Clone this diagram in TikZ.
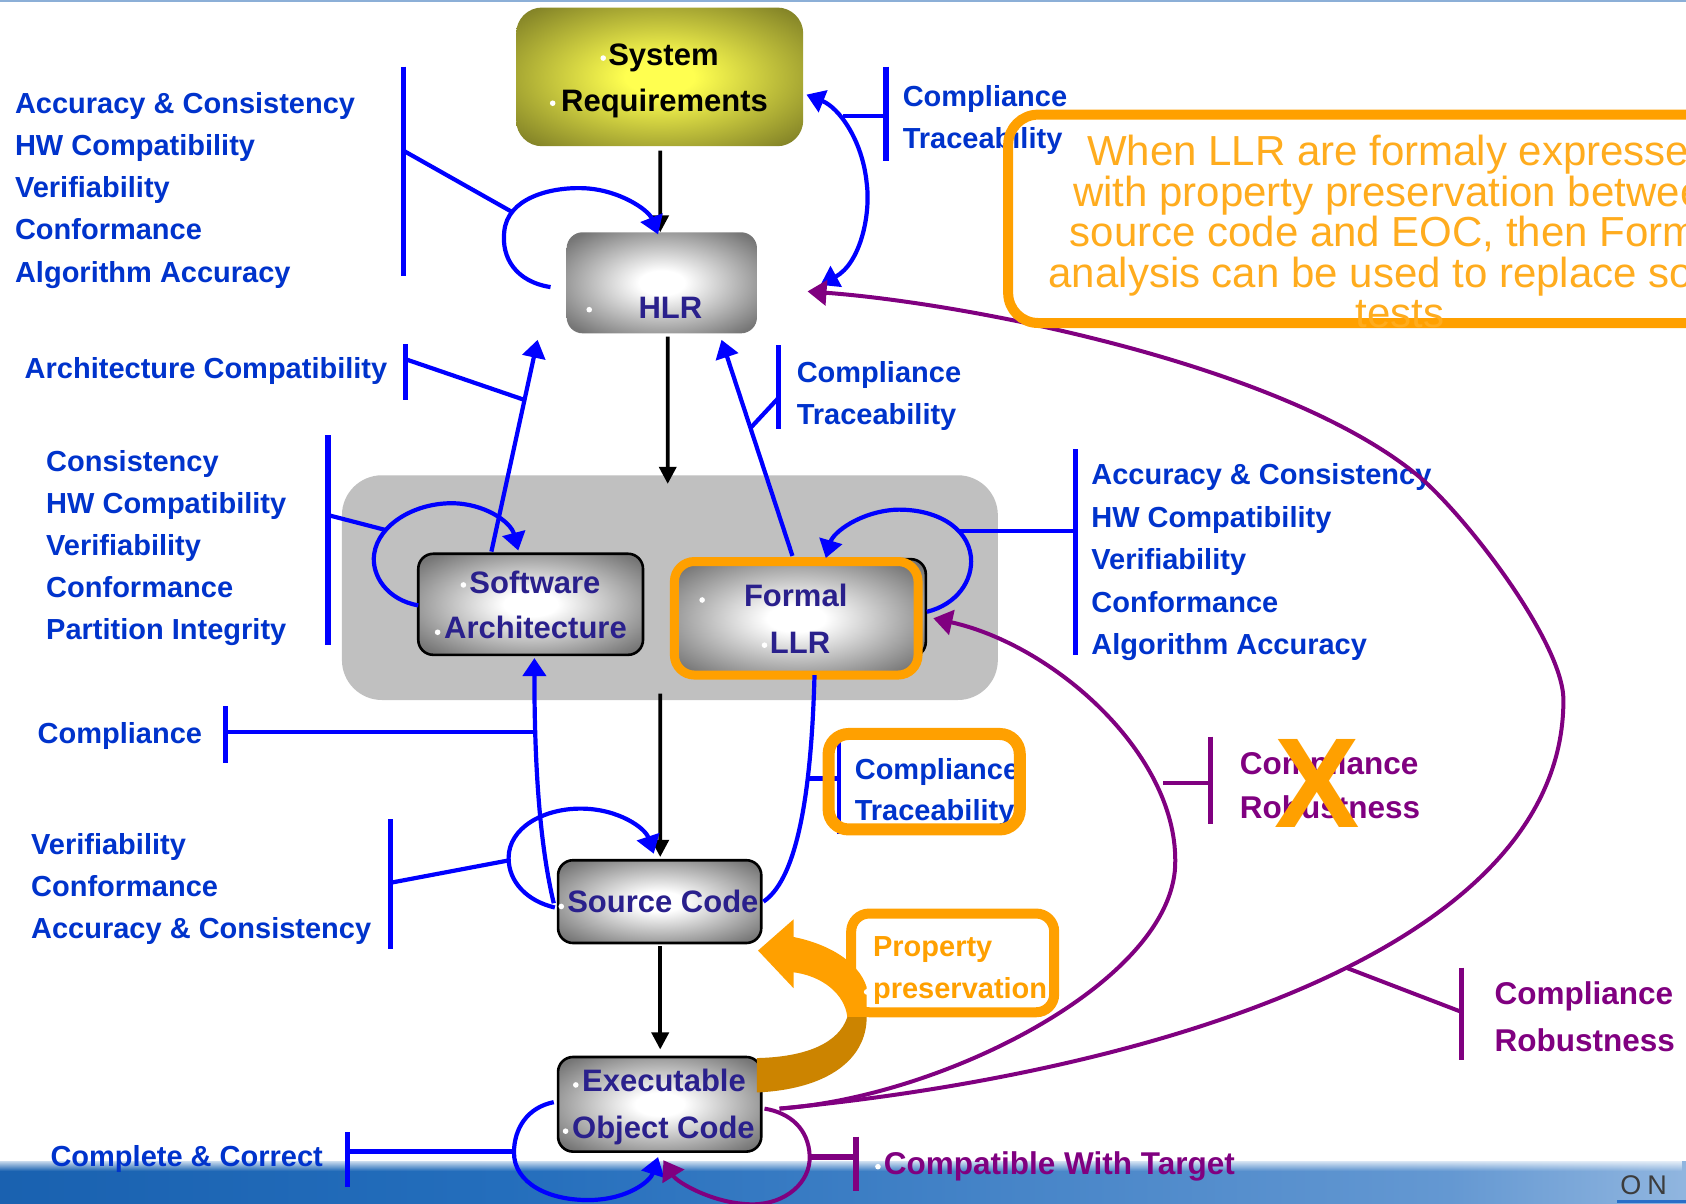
\documentclass[tikz,border=0pt]{standalone}
\usepackage{fontspec}
\setmainfont{Liberation Sans}
\usetikzlibrary{arrows.meta,calc,fit,fadings}

\definecolor{lblblue}{RGB}{0,51,204}
\definecolor{linkblue}{RGB}{0,0,255}
\definecolor{plum}{RGB}{128,0,128}
\definecolor{amber}{RGB}{255,160,0}
\definecolor{amberlite}{RGB}{255,172,30}
\definecolor{amberdark}{RGB}{204,132,0}
\definecolor{navy}{RGB}{42,32,140}
\definecolor{panelgrey}{RGB}{192,192,192}
\definecolor{boxedge}{RGB}{118,118,118}
\definecolor{reqcore}{RGB}{255,255,80}
\definecolor{reqedge}{RGB}{122,122,36}
\definecolor{bandA}{RGB}{8,76,156}
\definecolor{bandB}{RGB}{36,110,188}
\definecolor{bandC}{RGB}{100,152,210}
\definecolor{bandD}{RGB}{208,224,242}
\definecolor{topline}{RGB}{140,175,215}
\definecolor{brandgrey}{RGB}{60,60,60}
\definecolor{brandblue}{RGB}{40,110,200}

\pgfdeclareradialshading{greyglow}{\pgfpointorigin}{color(0bp)=(white); color(6bp)=(white); color(32bp)=(boxedge); color(50bp)=(boxedge)}
\pgfdeclareradialshading{reqglow}{\pgfpointorigin}{color(0bp)=(reqcore); color(6bp)=(reqcore); color(35bp)=(reqedge); color(50bp)=(reqedge)}
\pgfdeclarehorizontalshading{bannershade}{100bp}{color(0bp)=(bandA); color(40bp)=(bandB); color(68bp)=(bandC); color(85bp)=(bandD); color(95bp)=(white); color(100bp)=(white)}
\tikzfading[name=bannerfade, top color=transparent!0, bottom color=transparent!100]

\tikzset{
  every node/.style={inner sep=0pt, outer sep=0pt},
  lbl/.style={font=\fontsize{29}{29}\selectfont\bfseries, text=lblblue, anchor=base west},
  plbl/.style={lbl, font=\fontsize{31.5}{31.5}\selectfont\bfseries, text=plum},
  olbl/.style={lbl, text=amber},
  boxtxt/.style={font=\fontsize{31}{31}\selectfont\bfseries, text=navy, anchor=base},
  calltxt/.style={font=\fontsize{42}{42}\selectfont, text=amberlite, anchor=base},
  greybox/.style={rounded corners=15pt, shade, shading=greyglow, draw=black, line width=2.6pt},
  flow/.style={draw=black, line width=3.6pt, -{Triangle[length=17pt,width=17pt]}},
  link/.style={draw=linkblue, line width=4.2pt},
  linkarrow/.style={link, -{Triangle[length=18pt,width=23pt]}},
  bar/.style={draw=linkblue, line width=5.2pt},
  plink/.style={draw=plum, line width=4pt},
  plinkarrow/.style={plink, -{Triangle[length=19pt,width=25pt]}},
  pbar/.style={draw=plum, line width=5.2pt},
  amberframe/.style={draw=amber, rounded corners=#1},
}

\begin{document}
\begin{tikzpicture}[x=1.0753pt, y=-1.0753pt]
\useasboundingbox (0,0) rectangle (1568,1119);
\clip (0,0) rectangle (1568,1119);

% slide background, top rule and footer band
\fill[white] (0,0) rectangle (1568,1119);
\fill[topline] (0,0) rectangle (1568,2);
\shade[shading=bannershade] (0,1080) rectangle (1568,1119);
\fill[white, path fading=bannerfade] (0,1077) rectangle (1568,1089);
\fill[brandblue] (1504,1116) rectangle (1568,1119);
\node[font=\fontsize{27}{27}\selectfont, text=brandgrey, anchor=base west] (brand) at (1507,1111) {O\hspace{6pt}N};

% grey panel holding architecture and LLR
\node[fit={(318,442) (928,651)}, fill=panelgrey, rounded corners=40pt] (panel) {};

% life-cycle data boxes
\node[fit={(480,7) (747,136)}, rounded corners=26pt, shade, shading=reqglow] (sysreq) {};
\node[fit={(527,216) (704,310)}, rounded corners=16pt, shade, shading=greyglow] (hlr) {};
\node[fit={(389,515) (598,609)}, greybox] (swarch) {};
\node[fit={(633,520) (861,611)}, greybox] (llr) {};
\node[fit={(627.2,522.2) (853.8,627.8)}, shade, shading=greyglow, draw=amber, line width=9pt, rounded corners=20pt] (llrframe) {};
\node[fit={(519,800) (708,877)}, greybox] (srccode) {};
\node[fit={(519,983) (708,1071)}, greybox] (exec) {};

\node[boxtxt, text=black] (sysreq-a) at (617,61) {System};
\node[boxtxt, text=black] (sysreq-b) at (618,104) {Requirements};
\node[boxtxt] (hlr-a) at (623.5,296) {HLR};
\node[boxtxt] (swarch-a) at (497.5,552) {Software};
\node[boxtxt] (swarch-b) at (498,594) {Architecture};
\node[boxtxt] (llr-a) at (740,564.5) {Formal};
\node[boxtxt] (llr-b) at (744,607.5) {LLR};
\node[boxtxt] (srccode-a) at (616.5,849) {Source Code};
\node[boxtxt] (exec-a) at (617.5,1015) {Executable};
\node[boxtxt] (exec-b) at (617,1058.5) {Object Code};

\foreach \p in {(561,54),(514,96),(548,288),(431,544),(407,588),(653,558),(711,600),(522,843),(535.5,1009),(526,1052)}
  \fill[white] \p circle (2.8pt);

% verification objective labels
\foreach \t [count=\i] in {Accuracy \& Consistency,HW Compatibility,Verifiability,Conformance,Algorithm Accuracy}
  \node[lbl] (hlrobj-\i) at (14,{105.5+39.2*(\i-1)}) {\t};
\node[lbl] (archobj) at (23,351.6) {Architecture Compatibility};
\foreach \t [count=\i] in {Consistency,HW Compatibility,Verifiability,Conformance,Partition Integrity}
  \node[lbl] (swobj-\i) at (43,{438.6+39.1*(\i-1)}) {\t};
\node[lbl] (srcup) at (35,691) {Compliance};
\foreach \t [count=\i] in {Verifiability,Conformance,Accuracy \& Consistency}
  \node[lbl] (srcobj-\i) at (29,{795+38.8*(\i-1)}) {\t};
\node[lbl] (eocobj) at (47,1085) {Complete \& Correct};
\foreach \t [count=\i] in {Compliance,Traceability}
  \node[lbl] (sysobj-\i) at (839.6,{98.6+39.5*(\i-1)}) {\t};
\foreach \t [count=\i] in {Compliance,Traceability}
  \node[lbl] (llrup-\i) at (741,{355.6+39*(\i-1)}) {\t};
\foreach \t [count=\i] in {Accuracy \& Consistency,HW Compatibility,Verifiability,Conformance,Algorithm Accuracy}
  \node[lbl] (llrobj-\i) at (1015,{451+39.4*(\i-1)}) {\t};
\foreach \t [count=\i] in {Compliance,Traceability}
  \node[lbl] (srcdown-\i) at (795,{724.5+38.1*(\i-1)}) {\t};
\foreach \t [count=\i] in {Compliance,Robustness}
  \node[plbl] (eocllr-\i) at (1153,{720+41*(\i-1)}) {\t};
\foreach \t [count=\i] in {Compliance,Robustness}
  \node[plbl] (eochlr-\i) at (1390,{934.6+43.4*(\i-1)}) {\t};
\node[plbl] (eoctgt) at (822,1092) {Compatible With Target};
\fill[white] (816.5,1085) circle (2.8pt);

% brackets tying each objective group to its arrow
\coordinate (q1a) at (375,62);   \coordinate (q1b) at (375,257);
\coordinate (q1m) at (375,140);  \coordinate (q1c) at (476,197);
\draw[bar] (q1a) -- (q1b); \draw[link] (q1m) -- (q1c);
\coordinate (q2a) at (824,62);   \coordinate (q2b) at (824,150);
\coordinate (q2m) at (824,108);  \coordinate (q2c) at (784,108);
\draw[bar] (q2a) -- (q2b); \draw[link] (q2m) -- (q2c);
\coordinate (q3a) at (377,320);  \coordinate (q3b) at (377,372);
\coordinate (q3m) at (377,334);  \coordinate (q3c) at (488,372);
\draw[bar] (q3a) -- (q3b); \draw[link] (q3m) -- (q3c);
\coordinate (q4a) at (724,321);  \coordinate (q4b) at (724,399);
\coordinate (q4m) at (724,370);  \coordinate (q4c) at (698,398);
\draw[bar] (q4a) -- (q4b); \draw[link] (q4m) -- (q4c);
\coordinate (q5a) at (305,405);  \coordinate (q5b) at (305,600);
\coordinate (q5m) at (305,479);  \coordinate (q5c) at (359,493);
\draw[bar] (q5a) -- (q5b); \draw[link] (q5m) -- (q5c);
\coordinate (q6a) at (1000,418); \coordinate (q6b) at (1000,609);
\coordinate (q6m) at (1000,494); \coordinate (q6c) at (893,494);
\draw[bar] (q6a) -- (q6b); \draw[link] (q6m) -- (q6c);
\coordinate (q7a) at (210,657);  \coordinate (q7b) at (210,710);
\coordinate (q7m) at (210,681);  \coordinate (q7c) at (497,681);
\draw[bar] (q7a) -- (q7b); \draw[link] (q7m) -- (q7c);
\coordinate (q8a) at (363,762);  \coordinate (q8b) at (363,883);
\coordinate (q8m) at (363,821);  \coordinate (q8c) at (474,800);
\draw[bar] (q8a) -- (q8b); \draw[link] (q8m) -- (q8c);
\coordinate (q9a) at (780,690);  \coordinate (q9b) at (780,776);
\coordinate (q9m) at (780,724);  \coordinate (q9c) at (751,724);
\draw[link, line width=4.4pt] (q9a) -- (q9b); \draw[link] (q9m) -- (q9c);
\coordinate (q10a) at (323,1053); \coordinate (q10b) at (323,1104);
\coordinate (q10m) at (323,1071); \coordinate (q10c) at (478,1071);
\draw[bar] (q10a) -- (q10b); \draw[bar] (q10m) -- (q10c);
\coordinate (r1a) at (1359,900); \coordinate (r1b) at (1359,986);
\coordinate (r1m) at (1359,941); \coordinate (r1c) at (1252,900);
\draw[pbar] (r1a) -- (r1b); \draw[plink] (r1m) -- (r1c);
\coordinate (r2a) at (1126,685); \coordinate (r2b) at (1126,766);
\coordinate (r2m) at (1126,728); \coordinate (r2c) at (1082,728);
\draw[pbar] (r2a) -- (r2b); \draw[plink] (r2m) -- (r2c);
\coordinate (r3a) at (796,1057); \coordinate (r3b) at (796,1108);
\coordinate (r3m) at (796,1076); \coordinate (r3c) at (753,1076);
\draw[pbar] (r3a) -- (r3b); \draw[pbar] (r3m) -- (r3c);

% development flow
\draw[flow] ($(sysreq.south)+(0.5,4)$) -- ($(hlr.north)+(-1.5,0)$);
\draw[flow] ($(hlr.south)+(5.5,3)$) -- ($(panel.north)+(-2,8)$);
\draw[flow] ($(panel.south)+(-9,-6)$) -- ($(srccode.north)+(0.5,-3)$);
\draw[flow] ($(srccode.south)+(0.5,3)$) -- ($(exec.north)+(0.5,-7)$);

% review and analysis arrows
\draw[linkarrow] ($(hlr.west)+(-15,4)$) .. controls (480,262) and (466,240) .. (469,215)
  .. controls (472,185) and (510,174) .. (542,175) .. controls (575,176) and (603,195) .. ($(hlr.north)+(-3.5,2)$);
\draw[link, {Triangle[length=18pt,width=23pt]}-{Triangle[length=18pt,width=23pt]}]
  ($(hlr.east)+(59,2)$) .. controls (800,245) and (810,200) .. (806,170)
  .. controls (802,130) and (780,100) .. ($(sysreq.east)+(3,16.5)$);
\draw[linkarrow] ($(swarch.north)+(-36.5,-2)$) -- ($(hlr.south)+(-115.5,6)$);
\draw[linkarrow] ($(llr.north)+(-10,-3)$) -- ($(hlr.south)+(55.5,6)$);
\draw[linkarrow] ($(swarch.west)+(0,1)$) .. controls (360,558) and (345,535) .. (348,515)
  .. controls (352,488) and (385,468) .. (420,468) .. controls (450,468) and (475,485) .. ($(swarch.north)+(-11.5,-3)$);
\draw[linkarrow] ($(llr.east)+(1,3.5)$) .. controls (890,562) and (905,540) .. (903,518)
  .. controls (900,490) and (870,473) .. (833,474) .. controls (800,476) and (775,495) .. ($(llr.north)+(21,-1)$);
\draw[linkarrow] ($(srccode.west)+(-4,1.5)$) .. controls (503,790) and (497,720) .. ($(swarch.south)+(3.5,3)$);
\draw[linkarrow] ($(srccode.west)+(-3,5.5)$) .. controls (490,838) and (473,820) .. (473,798)
  .. controls (473,770) and (505,752) .. (540,752) .. controls (575,752) and (600,770) .. ($(srccode.north)+(-5.5,-6)$);
\draw[link] ($(llrframe.south)+(17,0)$) .. controls (755,720) and (745,815) .. ($(srccode.east)+(2,0)$);
\draw[linkarrow] ($(exec.west)+(-4,-2)$) .. controls (490,1030) and (478,1050) .. (478,1072)
  .. controls (478,1100) and (510,1117) .. (550,1116) .. controls (585,1115) and (605,1098) .. ($(exec.south)+(-1.5,5)$);

% object code checks
\draw[plinkarrow] ($(exec.east)+(17,4)$) .. controls (1050,1000) and (1454,890) .. (1454,651)
  .. controls (1454,600) and (1370,488) .. (1323,446) .. controls (1200,340) and (900,282) .. ($(hlr.east)+(47,8)$);
\draw[plinkarrow] ($(exec.east)+(17,4)$) .. controls (880,1020) and (1095,910) .. (1093,800)
  .. controls (1093,700) and (980,600) .. ($(llr.east)+(7,9.5)$);
\draw[plinkarrow] ($(exec.east)+(3,4)$) .. controls (735,1035) and (752,1050) .. (753,1075)
  .. controls (754,1100) and (730,1120) .. (700,1120) .. controls (665,1120) and (630,1100) .. ($(exec.south)+(3.5,8)$);

% property preservation callout with its curved arrow
\node[fit={(791.6,849.6) (980.4,941.4)}, fill=white, draw=amber, line width=10pt, rounded corners=18pt] (propbox) {};
\fill[amber] (736,871) .. controls (768,877) and (798,893) .. (806,918) -- (806,946) -- (788,946)
  .. controls (786,925) and (765,907) .. (736,904) -- cycle;
\fill[amber] (738,855) -- (705,884) -- (738,919) -- cycle;
\fill[amberdark] (788,946) -- (806,946) .. controls (806,985) and (770,1013) .. (704,1016) -- (704,984)
  .. controls (750,983) and (780,970) .. (788,946) -- cycle;
\foreach \t [count=\i] in {Property,preservation}
  \node[olbl] (prop-\i) at (812,{889.7+38.7*(\i-1)}) {\t};
\fill[white] (806,922.5) circle (2.8pt);

% highlight frame round the source-to-LLR objectives
\node[fit={(770.6,682.6) (948.4,771.4)}, amberframe=20pt, line width=12pt] (ctbox) {};

% formal analysis note
\node[fit={(937.6,106.6) (1620,300.4)}, amberframe=30pt, line width=10pt] (callout) {};
\foreach \t [count=\i] in {When LLR are formaly expressed,with property preservation between,{source code and EOC, then Formal},analysis can be used to replace some,tests}
  \node[calltxt] (note-\i) at (1302,{154+37.7*(\i-1)}) {\t};

% struck-out objective
\node[font=\fontsize{128}{128}\selectfont\bfseries, text=amber, anchor=base] (veto) at (1225,770) {X};
\end{tikzpicture}
\end{document}
